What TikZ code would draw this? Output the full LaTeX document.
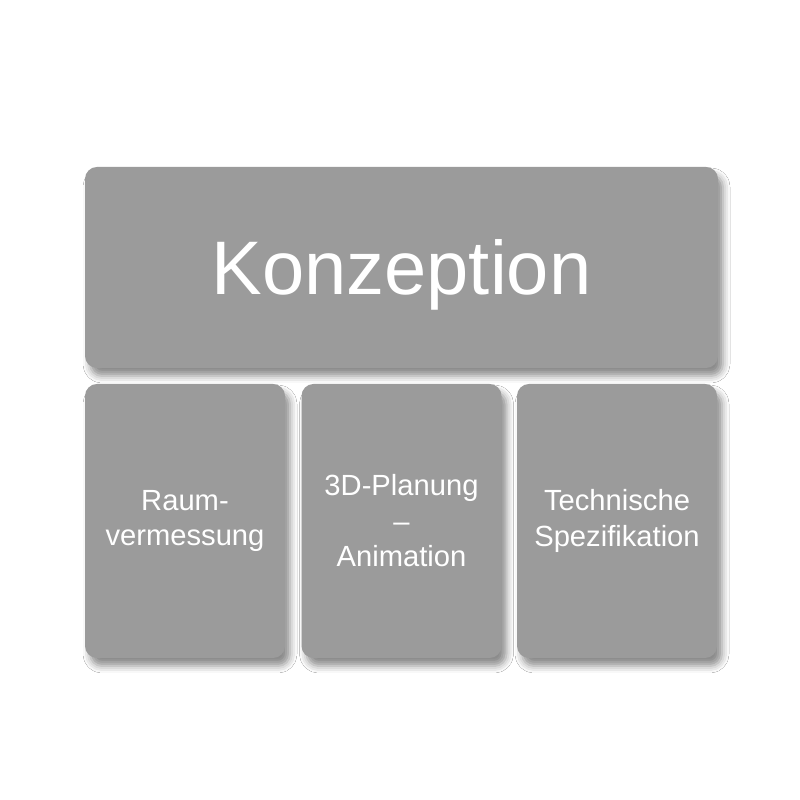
\documentclass[tikz,border=0pt]{standalone}
\usepackage{fontspec}
\setmainfont{Liberation Sans}
\usetikzlibrary{shadows.blur}
\definecolor{tilegray}{HTML}{9B9B9B}
\tikzset{
  tile/.style={fill=tilegray, draw=none, rounded corners=0.12cm, inner sep=0pt,
    text=white, align=center,
    blur shadow={shadow xshift=0.05cm, shadow yshift=-0.08cm,
      shadow blur radius=0.07cm, shadow opacity=45}},
  bigtile/.style={tile, minimum width=6.33cm, minimum height=2.01cm,
    text depth=0pt, font=\fontsize{21.6}{25}\selectfont},
  smalltile/.style={tile, minimum width=2.0cm, minimum height=2.74cm,
    font=\fontsize{8.3}{10.1}\selectfont}
}
\begin{document}
\begin{tikzpicture}
            \fill[white] (0,0) rectangle (8,8);
            \useasboundingbox (0,0) rectangle (8,8);

            % top
            \node[bigtile] (konzeption) at (4.015,5.325) {Konzeption};
            % bottom row
            \node[smalltile] (raum) at (1.85,2.79) {Raum-\\vermessung};
            \node[smalltile] (planung) at (4.015,2.79) {3D-Planung\\--\\Animation};
            \node[smalltile] (technik) at (6.17,2.79) {Technische\\Spezifikation};
\end{tikzpicture}
\end{document}
